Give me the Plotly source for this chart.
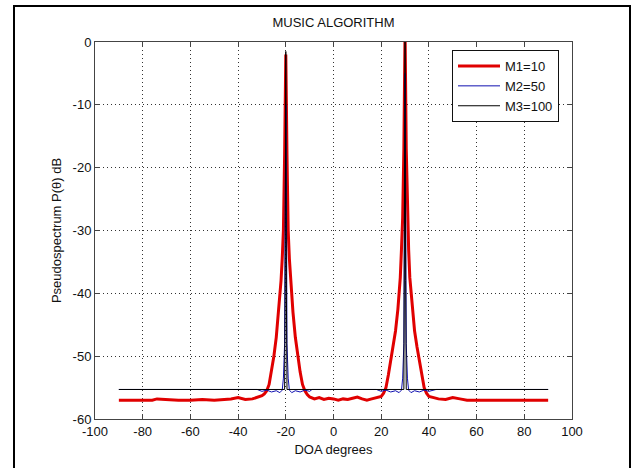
import plotly.graph_objects as go

# ---------------- data ----------------
x_m1 = [-90, -85, -80, -76, -74, -70, -65, -60, -55, -50, -46, -43, -40, -37, -34, -32,
        -30, -29, -28, -27, -26, -25, -24, -23, -22, -21.5, -21, -20.5, -20, -19.5, -19,
        -18.5, -18, -17, -16, -15, -14, -13, -12, -11, -10, -8, -6, -4, -2, 0, 2, 4, 6,
        8, 10, 12, 14, 16, 18, 19, 20, 21, 22, 23, 24, 25, 26, 27, 28, 28.5, 29, 29.5,
        30, 30.5, 31, 31.5, 32, 33, 34, 35, 36, 37, 38, 39, 40, 42, 44, 47, 50, 53, 56,
        60, 65, 70, 75, 80, 85, 90]
y_m1 = [-57.0, -57.0, -57.0, -57.0, -56.8, -56.9, -57.0, -57.0, -56.9, -57.0, -56.9, -56.8,
        -56.6, -56.9, -56.8, -56.6, -56.3, -56.0, -55.5, -54.5, -52.5, -50.0, -47.0, -43.0,
        -38.0, -34.5, -30.0, -18.0, -2.0, -18.0, -30.0, -34.5, -38.0, -43.0, -47.0, -50.0,
        -52.5, -54.5, -55.5, -56.1, -56.5, -56.8, -56.6, -56.9, -56.7, -56.8, -57.0, -56.8,
        -56.9, -56.7, -56.5, -56.8, -57.0, -56.8, -56.6, -56.4, -56.4, -55.9, -55.0, -53.0,
        -50.5, -48.5, -46.0, -42.5, -37.5, -33.0, -28.0, -17.0, 2.0, -17.0, -28.0, -33.0,
        -37.5, -42.5, -46.0, -48.5, -50.5, -53.0, -55.0, -55.9, -56.4, -56.6, -56.8, -56.9,
        -56.6, -56.8, -57.0, -57.0, -57.0, -56.9, -57.0, -57.0, -57.0, -57.0]

x_m2 = [-90, -32, -30, -28, -26, -24, -22.5, -21.5, -21, -20.5, -20.25, -20, -19.75, -19.5,
        -19, -18.5, -17.5, -16, -14, -12, -10, -9, 18, 20, 22, 24, 26, 27.5, 28.5, 29, 29.5,
        29.75, 30, 30.25, 30.5, 31, 31.5, 32.5, 34, 36, 38, 40, 43, 90]
y_m2 = [-55.3, -55.3, -55.6, -55.4, -55.7, -55.5, -55.8, -55.4, -53.5, -48.0, -24.0, -10.0,
        -24.0, -48.0, -53.5, -55.4, -55.8, -55.5, -55.7, -55.4, -55.6, -55.3, -55.3, -55.6,
        -55.4, -55.7, -55.5, -55.8, -55.4, -53.5, -48.0, -24.0, -5.0, -24.0, -48.0, -53.5,
        -55.4, -55.8, -55.5, -55.7, -55.4, -55.6, -55.3, -55.3]

x_m3 = [-90, -20.5, -20.25, -20, -19.75, -19.5, 29.5, 29.75, 30, 30.25, 30.5, 90]
y_m3 = [-55.3, -55.3, -40.0, -1.5, -40.0, -55.3, -55.3, -38.0, 1.0, -38.0, -55.3, -55.3]

names = ["M1=10", "M2=50", "M3=100"]
x_ticks = [-100, -80, -60, -40, -20, 0, 20, 40, 60, 80, 100]
x_tick_text = ["-100", "-80", "-60", "-40", "-20", "0", "20", "40", "60", "80", "100"]
y_ticks = [-60, -50, -40, -30, -20, -10, 0]
y_tick_text = ["-60", "-50", "-40", "-30", "-20", "-10", "0"]

FONT = "Liberation Sans, Arial, sans-serif"

fig = go.Figure()
fig.add_trace(go.Scatter(x=x_m1, y=y_m1, mode="lines", name=names[0],
                         line=dict(color="#e00000", width=3)))
fig.add_trace(go.Scatter(x=x_m2, y=y_m2, mode="lines", name=names[1],
                         line=dict(color="#1010b0", width=1)))
fig.add_trace(go.Scatter(x=x_m3, y=y_m3, mode="lines", name=names[2],
                         line=dict(color="#000000", width=1)))

W, H = 638, 468
L, R, T, B = 95, 572, 42, 419
pw, ph = R - L, B - T

def px(xp):
    return (xp - L) / pw

def py(yp):
    return (B - yp) / ph

axis_common = dict(
    showline=True, linecolor="#444", linewidth=1, mirror="ticks",
    ticks="inside", ticklen=5, tickcolor="#444",
    showgrid=True, gridcolor="#333", gridwidth=1, griddash="1px,3px",
    zeroline=False,
    tickfont=dict(family=FONT, size=13, color="#111"),
)

fig.update_layout(
    width=W, height=H,
    margin=dict(l=L, r=W - R, t=T, b=H - B, pad=0, autoexpand=False),
    paper_bgcolor="white", plot_bgcolor="white",
    font=dict(family=FONT, size=13, color="#111"),
    title=dict(text="MUSIC ALGORITHM", x=0.5, xref="paper", xanchor="center",
               y=1 - 22 / H, yref="container", yanchor="middle",
               font=dict(family=FONT, size=13, color="#111")),
    xaxis=dict(range=[-100, 100], tickvals=x_ticks, ticktext=x_tick_text, **axis_common,
               title=dict(text="DOA degrees", standoff=7,
                          font=dict(family=FONT, size=13, color="#111"))),
    yaxis=dict(range=[-60, 0], tickvals=y_ticks, ticktext=y_tick_text, **axis_common,
               title=dict(text="Pseudospectrum P(θ) dB", standoff=8,
                          font=dict(family=FONT, size=13, color="#111"))),
    legend=dict(x=px(452), y=py(50), xanchor="left", yanchor="top",
                bgcolor="white", bordercolor="#111", borderwidth=1,
                font=dict(family=FONT, size=13, color="#111"),
                tracegroupgap=0, itemwidth=42),
    showlegend=True,
    shapes=[dict(type="rect", xref="paper", yref="paper",
                 x0=px(14), x1=px(630), y0=py(475), y1=py(6),
                 line=dict(color="black", width=2), fillcolor="rgba(0,0,0,0)",
                 layer="above")],
)

fig.write_html("out.html",
               config={"displayModeBar": False},
               post_script="document.body.style.margin='0';document.body.style.overflow='hidden';")
